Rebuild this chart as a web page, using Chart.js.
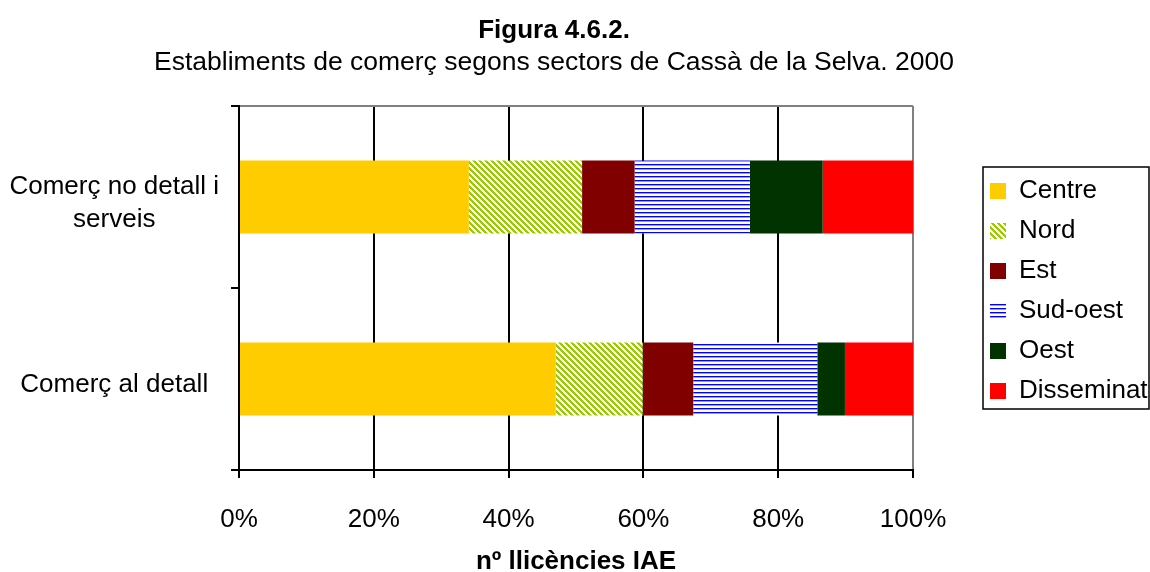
<!DOCTYPE html>
<html><head><meta charset="utf-8">
<script src="https://cdn.jsdelivr.net/npm/chart.js@4"></script>
<style>html,body{margin:0;padding:0;background:#fff}</style>
</head><body>
<canvas id="c" width="1150" height="572"></canvas>
<script>
const categories = [['Comerç no detall i', 'serveis'], 'Comerç al detall'];
const seriesNames = ['Centre', 'Nord', 'Est', 'Sud-oest', 'Oest', 'Disseminat'];
const centre = [34.1, 47.0];
const nord = [16.8, 12.9];
const est = [7.8, 7.5];
const sudOest = [17.1, 18.4];
const oest = [10.8, 4.1];
const disseminat = [13.4, 10.1];
const xTicks = [0, 20, 40, 60, 80, 100];
const titleText = 'Figura 4.6.2.';
const subtitleText = 'Establiments de comerç segons sectors de Cassà de la Selva. 2000';
const xTitle = 'nº llicències IAE';

const FAMILY = '"Liberation Sans", Arial, Helvetica, sans-serif';
Chart.defaults.font.family = FAMILY;
Chart.defaults.color = '#000';

const canvas = document.getElementById('c');
const mainCtx = canvas.getContext('2d');

function diagPattern() {
  const n = 6;
  const c = document.createElement('canvas'); c.width = n; c.height = n;
  const g = c.getContext('2d');
  const img = g.createImageData(n, n);
  for (let y = 0; y < n; y++) for (let x = 0; x < n; x++) {
    const on = ((((x - y) % n) + n) % n) < 3;
    const i = (y * n + x) * 4;
    const col = on ? [153, 204, 0] : [255, 255, 255];
    img.data[i] = col[0]; img.data[i + 1] = col[1]; img.data[i + 2] = col[2]; img.data[i + 3] = 255;
  }
  g.putImageData(img, 0, 0);
  return mainCtx.createPattern(c, 'repeat');
}
function hlinePattern() {
  const c = document.createElement('canvas'); c.width = 4; c.height = 4;
  const g = c.getContext('2d');
  g.fillStyle = '#fff'; g.fillRect(0, 0, 4, 4);
  g.fillStyle = '#0000ff'; g.fillRect(0, 0, 4, 1);
  g.fillStyle = '#9999ff'; g.fillRect(0, 1, 4, 1);
  return mainCtx.createPattern(c, 'repeat');
}

const fills = ['#ffcc00', diagPattern(), '#800000', hlinePattern(), '#003300', '#ff0000'];
const values = [centre, nord, est, sudOest, oest, disseminat];

const decor = {
  id: 'decor',
  beforeDraw(chart) {
    const lg = chart.legend;
    const w = lg.right - lg.left;
    const h = lg.bottom - lg.top;
    lg.left = 976; lg.right = 976 + w;
    lg.top = chart.chartArea.top + 3; lg.bottom = lg.top + h;
  },
  afterDraw(chart) {
    const {ctx, chartArea: a} = chart;
    ctx.save();
    ctx.strokeStyle = '#808080'; ctx.lineWidth = 2;
    ctx.beginPath(); ctx.moveTo(a.left + 1, a.top); ctx.lineTo(a.right, a.top); ctx.stroke();
    ctx.fillStyle = '#000'; ctx.textAlign = 'center'; ctx.textBaseline = 'alphabetic';
    ctx.font = 'bold 26px ' + FAMILY; ctx.fillText(titleText, 554, 37.5);
    ctx.font = '26.5px ' + FAMILY; ctx.fillText(subtitleText, 554, 70);
    const hb = chart.legend.legendHitBoxes;
    const top = hb[0].top - 8;
    const last = hb[hb.length - 1];
    const bottom = last.top + last.height + 8;
    ctx.strokeStyle = '#000'; ctx.lineWidth = 1.5;
    ctx.strokeRect(983, top, 1149 - 983, bottom - top);
    ctx.restore();
  }
};

const opts = {
  responsive: false,
  animation: false,
  indexAxis: 'y',
  devicePixelRatio: 1,
  layout: {padding: {top: 106, left: 0, bottom: 0, right: 40}},
  plugins: {
    legend: {
      position: 'right', fullSize: false,
      labels: {boxWidth: 16, boxHeight: 16, padding: 14, font: {size: 26}, color: '#000'}
    },
    tooltip: {enabled: false},
    title: {display: false}
  },
  scales: {
    x: {
      type: 'linear', stacked: true, min: 0, max: 100, position: 'bottom',
      afterBuildTicks(s) { s.ticks = xTicks.map(v => ({value: v})); },
      grid: {
        color: c => (c.tick && c.tick.value === 100) ? '#808080' : '#000',
        tickColor: '#000', lineWidth: 2, tickLength: 8
      },
      border: {color: '#000', width: 2},
      ticks: {callback: v => v + '%', font: {size: 26}, color: '#000', padding: 26, maxRotation: 0},
      title: {display: true, text: xTitle, font: {size: 26, weight: 'bold', lineHeight: 0.75}, padding: 0, color: '#000'},
      afterFit(s) { s.height = 102; }
    },
    y: {
      stacked: true,
      grid: {offset: true, drawOnChartArea: false, drawTicks: true, tickLength: 8, color: '#000', lineWidth: 2},
      border: {color: '#000', width: 2},
      ticks: {font: {size: 26, lineHeight: 1.27}, color: '#000', padding: 12, crossAlign: 'center', labelOffset: 6},
      afterFit(s) { s.width = 239; }
    }
  }
};

const chart = new Chart(mainCtx, {
  type: 'bar',
  data: {
    labels: categories,
    datasets: seriesNames.map((name, i) => ({
      label: name,
      data: values[i],
      backgroundColor: fills[i],
      borderWidth: 0,
      categoryPercentage: 1,
      barPercentage: 0.4
    }))
  },
  options: opts,
  plugins: [decor]
});
const fix = chart.chartArea.right - 913;
if (Math.abs(fix) > 0.1) {
  chart.config.options.layout.padding.right = Math.max(0, 40 + fix);
  chart.update();
}
</script>
</body></html>
